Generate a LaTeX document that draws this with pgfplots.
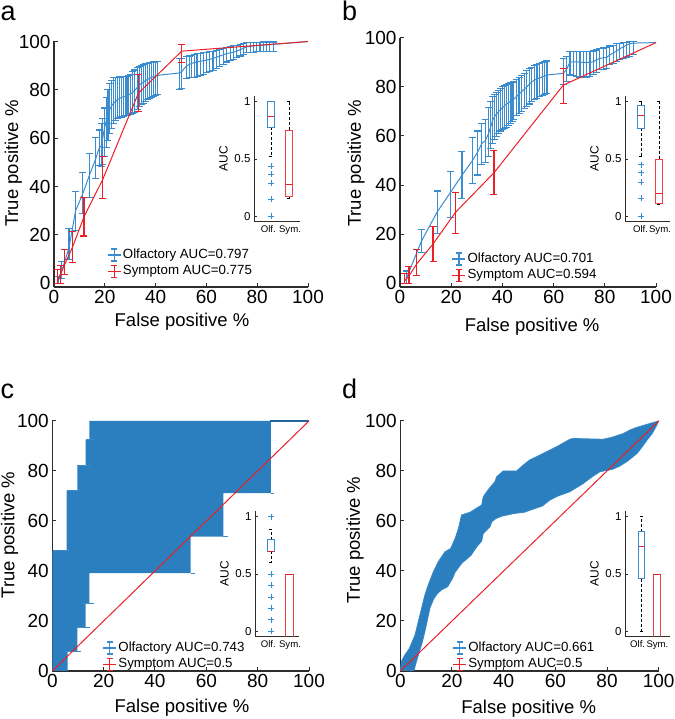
\documentclass[border=0pt]{standalone}
\usepackage{fontspec}
\setmainfont{Liberation Sans}
\usepackage{pgfplots}
\usepackage{pgfplotstable}
\pgfplotsset{compat=1.18}
\usepgfplotslibrary{statistics}

\definecolor{blu}{RGB}{58,140,206}
\definecolor{bandblu}{RGB}{44,127,190}
\definecolor{rd}{RGB}{234,32,40}
\definecolor{axgray}{RGB}{45,45,45}

% panel a, olfactory ROC: x y lower upper
\pgfplotstableread{
x y lo hi
1.7 1 0 3
3.0 5 2 9
5.9 14.7 9.7 22.5
8.5 30 22 37.9
11.3 37 28.7 45.7
13.9 44.6 35.5 53.8
16.5 51.7 43.2 60.3
17.8 56 48.6 63.4
18.7 57 48.3 66.2
19.0 59 49 68
19.75 63.5 52.5 72.5
20.5 67 56 77
21.25 69.8 59 80
22.0 72 62 82.5
22.75 73.5 64.2 84
23.5 74.5 66 85
24.25 75.2 67.2 85
25.0 76 68 85
25.75 76.4 68.4 85.3
26.5 76.8 68.8 85.5
27.25 77.1 69.1 85.5
28.0 77.4 69.3 85.6
28.75 77.7 69.5 85.7
29.5 78 69.7 86
30.25 78.4 69.9 86.5
31.0 79 70.3 87.5
31.75 79.7 70.8 88.2
32.8 81 72 89.3
33.6 82 73 89.8
34.4 82.6 73.8 90.2
35.2 83.2 74.5 90.5
36.0 83.8 75.2 90.8
36.8 84.3 76 91
37.6 84.8 76.6 91.2
38.4 85.2 77 91.4
39.2 85.5 77.4 91.5
40.0 85.8 77.8 91.6
40.8 86 78 91.7
49.5 87 80 93
50.2 87.5 80.5 93
52.3 90 84.8 93.7
53.3 90.5 85 94
54.3 91 85 94.3
55.3 91.3 85.2 94.6
56.3 91.5 85.5 95
57.5 91.8 86 95.2
58.7 92 86.5 95.4
60.0 92.3 87 95.6
61.3 92.6 87.5 95.8
62.6 93 88 96
64.0 93.5 89 96.4
65.3 94 89.8 96.7
66.6 94.5 90.5 97
68.0 95 91.5 97.5
69.4 95.3 92 98
70.7 95.6 92.6 98.2
72.0 96 93.2 98.5
73.3 96.6 94 98.8
74.6 97.2 94.8 99.2
75.9 97.8 95.3 99.5
77.2 98 95.5 99.6
78.5 98.2 95.6 99.6
79.8 98.3 95.7 99.7
81.1 98.4 95.8 99.7
82.4 98.5 95.8 99.8
83.7 98.6 95.9 99.8
85.0 98.7 96 99.8
86.3 98.8 96 99.8
}\olfA

\pgfplotstableread{
x y lo hi
1.3 1 0 5.6
2.4 3.5 0 7.4
4.3 8 3.5 14.1
7.3 15 8.6 21.4
11.8 27.5 19.6 35.5
19.2 43 35.2 52.4
33.2 78.6 71 86.2
50.3 96 91.2 98.6
}\symA

% panel b
\pgfplotstableread{
x y lo hi
2.5 2 0 5
8.3 17 12.5 22
14.5 29 20.4 37.6
19.7 37 26.9 45.4
24.2 44 34.6 53.6
28.3 50 40.7 59.4
30.1 53 44.1 62
32.0 57 48.2 64.9
33.3 58 49.1 66.8
34.6 61 51.8 71.7
35.5 64 55 74
36.25 66.5 57 76
37.0 68 58.5 77
37.75 69 59.6 77.7
38.5 70 61 78.5
39.25 70.7 62 79.2
40.0 71.5 62.6 80
40.75 72.2 63.1 80.5
41.5 73 63.6 81
42.25 73.4 64.2 81.3
43.0 74 65 81.6
43.75 74.5 65.8 81.9
44.5 75 66.8 82.2
45.5 76 68.5 83
46.5 77 69.3 83.7
47.5 78 70 84.5
48.5 79 71 85.5
49.5 80 72 86.5
50.5 81 73 87.5
51.5 82 74 88
52.5 82.7 74.7 88.5
53.5 83.2 75.3 89
54.5 83.6 76 89.5
55.5 84 76.5 90
56.5 84.4 77 90.3
57.4 84.8 77.4 90.5
63.8 85.5 81 91.5
65.0 87 82 92.5
66.4 90 84.8 94.3
67.7 90.2 84.5 94.4
69.0 90.2 84.2 94.5
70.3 90 84 94.5
71.6 90 84 94.5
72.9 90 84 94.5
74.2 90 84.3 94.5
75.5 90.2 85 94.6
76.8 91 86 95
78.1 91.6 86.9 95.7
79.4 91.8 87.2 95.8
80.7 92 87.6 96
82.0 93 89 96.6
83.3 93.8 89.6 97
84.6 94.5 90.3 97.5
85.9 95.5 91 97.8
87.2 96.3 91.5 98
88.5 97 92 98.2
89.8 97.5 92.5 98.4
91.1 97.8 93 98.5
}\olfB

\pgfplotstableread{
x y lo hi
1.8 1 0 4
3.5 3 0 7
6.6 8 3 13.6
12.9 16 8.8 23
21.6 28.8 20.4 37
36.7 45 36 53.9
63.8 80.7 73.3 87.5
}\symB

\pgfplotsset{
  /pgf/number format/assume math mode=true,
  mainax/.style={scale only axis, anchor=south west, xmin=0, xmax=100, ymax=100,
    axis x line*=bottom, axis y line*=left, tick align=inside, major tick length=4pt,
    xtick={0,20,...,100}, ytick={0,20,...,100}, clip=false,
    axis line style={axgray, line width=1.3pt}, tick style={axgray, line width=1pt},
    tick label style={font=\fontsize{19}{19}\selectfont},
    label style={font=\fontsize{18.5}{19}\selectfont},
    xlabel={False positive \%}, ylabel={True positive \%},
    legend style={anchor=north west, draw=none, fill=none,
      font=\fontsize{13.3}{14}\selectfont, legend cell align=left,
      nodes={inner sep=1.5pt, text height=10pt, text depth=3.5pt}}},
  labpos/.style n args={4}{
    xlabel style={at={(axis description cs:#1,#2)}, anchor=center},
    ylabel style={at={(axis description cs:#3,#4)}, anchor=center}},
  inax/.style n args={2}{scale only axis, anchor=south west, ymin=-0.05, ymax=1.05,
    axis x line*=bottom, axis y line*=left, tick align=inside, major tick length=2.5pt,
    ytick={0,0.5,1}, yticklabels={0,0.5,1},
    xtick=\empty, extra x ticks={#1,#2}, extra x tick labels={Olf.,Sym.},
    extra x tick style={major tick length=0pt},
    axis line style={axgray, line width=1pt}, tick style={axgray, line width=0.8pt},
    yticklabel style={font=\fontsize{11.5}{12}\selectfont},
    xticklabel style={font=\fontsize{9.6}{10}\selectfont},
    ylabel={AUC}, ylabel style={font=\fontsize{12}{12}\selectfont},
    boxplot/draw direction=y,
    boxplot/box extend=0.35, boxplot/whisker extend=0.17,
    boxplot/every median/.style={rd, line width=0.8pt},
    boxplot/every whisker/.style={black, line width=0.8pt, dash pattern=on 3pt off 2pt}},
  bleg/.style={legend image code/.code={
    \draw[draw={rgb,255:red,58;green,140;blue,206}, line width=1.2pt]
      (0pt,0pt) -- (13pt,0pt) (6.5pt,-6pt) -- (6.5pt,6pt)
      (3.5pt,6pt) -- (9.5pt,6pt) (3.5pt,-6pt) -- (9.5pt,-6pt);}},
  rleg/.style={legend image code/.code={
    \draw[draw={rgb,255:red,234;green,32;blue,40}, line width=1.2pt]
      (0pt,0pt) -- (13pt,0pt) (6.5pt,-6pt) -- (6.5pt,6pt)
      (3.5pt,6pt) -- (9.5pt,6pt) (3.5pt,-6pt) -- (9.5pt,-6pt);}},
  ebar/.style={line width=1pt, error bars/.cd, y dir=both, y explicit,
    error bar style={draw=#1, line width=1.1pt},
    error mark options={draw=#1, rotate=90, mark size=3.5pt, line width=1.1pt}},
}

\begin{document}
\begin{tikzpicture}
\useasboundingbox (0pt,0pt) rectangle (674pt,719pt);

\node[anchor=base west, inner sep=0pt, font=\fontsize{27}{27}\selectfont] at (0.5pt,698.3pt) {a};
\node[anchor=base west, inner sep=0pt, font=\fontsize{27}{27}\selectfont] at (342pt,698.3pt) {b};
\node[anchor=base west, inner sep=0pt, font=\fontsize{27}{27}\selectfont] at (0.5pt,320.7pt) {c};
\node[anchor=base west, inner sep=0pt, font=\fontsize{27}{27}\selectfont] at (342pt,320.7pt) {d};

% ---------------- a
\begin{axis}[mainax, at={(54pt,432pt)}, width=254pt, height=245.5pt, ymin=-1.5,
  labpos={0.504}{-0.143}{-0.160}{0.503}, legend style={at={(0.197,0.173)}}]
\addlegendimage{bleg}\addlegendentry{Olfactory AUC=0.797}
\addlegendimage{rleg}\addlegendentry{Symptom AUC=0.775}
\addplot[blu, forget plot, ebar=blu] table[x=x, y=y,
  y error plus expr=\thisrow{hi}-\thisrow{y}, y error minus expr=\thisrow{y}-\thisrow{lo}] {\olfA};
\addplot[blu, line width=1pt, forget plot] coordinates {(86.3,98.8) (100,100)};
\addplot[rd, forget plot, ebar=rd] table[x=x, y=y,
  y error plus expr=\thisrow{hi}-\thisrow{y}, y error minus expr=\thisrow{y}-\thisrow{lo}] {\symA};
\addplot[rd, line width=1pt, forget plot] coordinates {(50.3,96) (100,100)};
\end{axis}
\begin{axis}[inax={0.85}{2.056}, at={(254pt,497pt)}, width=45.5pt, height=126pt, xmin=0.056, xmax=2.583]
\addplot[blu, line width=0.8pt, boxplot prepared={draw position=1, lower whisker=0.52,
  lower quartile=0.78, median=0.87, upper quartile=1, upper whisker=1}] coordinates {};
\addplot[only marks, mark=+, blu, mark size=3pt, mark options={line width=0.7pt}]
  coordinates {(1,0.44) (1,0.37) (1,0.29) (1,0.15) (1,0)};
\addplot[rd!85, line width=0.8pt, boxplot prepared={draw position=2, lower whisker=0.16,
  lower quartile=0.17, median=0.28, upper quartile=0.75, upper whisker=1}] coordinates {};
\end{axis}

% ---------------- b
\begin{axis}[mainax, at={(400pt,432pt)}, width=256pt, height=249.3pt, ymin=-1.5,
  labpos={0.516}{-0.160}{-0.172}{0.495}, legend style={at={(0.19,0.154)}}]
\addlegendimage{bleg}\addlegendentry{Olfactory AUC=0.701}
\addlegendimage{rleg}\addlegendentry{Symptom AUC=0.594}
\addplot[blu, forget plot, ebar=blu] table[x=x, y=y,
  y error plus expr=\thisrow{hi}-\thisrow{y}, y error minus expr=\thisrow{y}-\thisrow{lo}] {\olfB};
\addplot[blu, line width=1pt, forget plot] coordinates {(91.1,97.8) (100,98)};
\addplot[rd, forget plot, ebar=rd] table[x=x, y=y,
  y error plus expr=\thisrow{hi}-\thisrow{y}, y error minus expr=\thisrow{y}-\thisrow{lo}] {\symB};
\addplot[rd, line width=1pt, forget plot] coordinates {(63.8,80.7) (100,98)};
\end{axis}
\begin{axis}[inax={0.972}{2.055}, at={(625pt,497pt)}, width=45pt, height=126pt, xmin=0.111, xmax=2.611]
\addplot[blu, line width=0.8pt, boxplot prepared={draw position=1, lower whisker=0.52,
  lower quartile=0.77, median=0.88, upper quartile=0.97, upper whisker=1}] coordinates {};
\addplot[only marks, mark=+, blu, mark size=3pt, mark options={line width=0.7pt}]
  coordinates {(1,0.45) (1,0.38) (1,0.30) (1,0.16) (1,0)};
\addplot[rd!85, line width=0.8pt, boxplot prepared={draw position=2, lower whisker=0.10,
  lower quartile=0.11, median=0.20, upper quartile=0.50, upper whisker=1}] coordinates {};
\end{axis}

% ---------------- c
\begin{axis}[mainax, at={(52.3pt,48pt)}, width=256.7pt, height=250pt, ymin=0,
  labpos={0.505}{-0.146}{-0.166}{0.544}, legend style={at={(0.184,0.134)}}]
\addlegendimage{bleg}\addlegendentry{Olfactory AUC=0.743}
\addlegendimage{rleg}\addlegendentry{Symptom AUC=0.5}
\addplot[fill=bandblu, draw=none, forget plot] coordinates {
  (0,0) (0,48) (5.6,48) (5.6,72) (9.8,72) (9.8,82.3) (13,82.3) (13,92.4) (14.4,92.4)
  (14.4,100) (85.1,100) (85.1,71.1) (66.6,71.1) (66.6,53.7) (53.9,53.7) (53.9,39.1)
  (14.4,39.1) (14.4,27.1) (13,27.1) (13,17.3) (9.8,17.3) (9.8,7.7) (6,7.7) (6,0)};
\addplot[blu, line width=1pt, forget plot, unbounded coords=jump] coordinates {
  (0.4,48) (6.9,48) (nan,nan) (5.6,72) (11.3,72) (nan,nan) (9.8,82.3) (14.7,82.3)
  (nan,nan) (13.1,92.4) (16.3,92.4) (nan,nan) (4.9,7.7) (11.3,7.7) (nan,nan)
  (9.8,17.3) (14.7,17.3) (nan,nan) (11.4,27.1) (16.3,27.1) (nan,nan)
  (53.9,39.1) (55.6,39.1) (nan,nan) (66.6,53.7) (68.3,53.7) (nan,nan)
  (85.1,71.1) (86.5,71.1)};
\addplot[bandblu!80!black, line width=1.2pt, forget plot] coordinates {(85,100) (100,100)};
\addplot[rd, line width=1pt, forget plot] coordinates {(0,0) (100,100)};
\end{axis}
\begin{axis}[inax={0.854}{2.027}, at={(255pt,82pt)}, width=44pt, height=126pt, xmin=0.135, xmax=2.513]
\addplot[blu, line width=0.8pt, boxplot prepared={draw position=1, lower whisker=0.60,
  lower quartile=0.70, median=0.70, upper quartile=0.80, upper whisker=0.89}] coordinates {};
\addplot[only marks, mark=+, blu, mark size=3pt, mark options={line width=0.7pt}]
  coordinates {(1,1) (1,0.5) (1,0.4) (1,0.3) (1,0.2) (1,0.1) (1,0)};
\addplot[rd!85, line width=0.8pt, boxplot prepared={draw position=2, box extend=0.4,
  lower whisker=0.5, lower quartile=-0.05, median=0.5, upper quartile=0.5, upper whisker=0.5,
  every whisker/.style={draw=none}}] coordinates {};
\end{axis}

% ---------------- d
\begin{axis}[mainax, at={(400.3pt,48pt)}, width=258.4pt, height=250pt, ymin=0,
  labpos={0.497}{-0.152}{-0.175}{0.524}, legend style={at={(0.19,0.134)}}]
\addlegendimage{bleg}\addlegendentry{Olfactory AUC=0.661}
\addlegendimage{rleg}\addlegendentry{Symptom AUC=0.5}
\addplot[fill=bandblu, draw=blu!70!bandblu, line width=0.8pt, forget plot] coordinates {
  (0,0) (0.5,4) (1.8,6.5) (3.5,9) (5.7,14.4) (7.6,22.4) (9.5,30.4) (10.8,34.4)
  (12.8,39.7) (14.7,43.7) (17.3,47.7) (19.5,49) (21.2,53) (22.5,57) (23.7,62.4)
  (27,63.5) (31.5,66.4) (32.1,69.7) (34,72.5) (36.6,75.7) (37.3,77.7) (39.8,80)
  (45,80) (47.6,82.4) (50.2,84.5) (52.7,85.7) (57.9,88.4) (60.5,89.7) (65.6,92.7)
  (67,93) (78.5,92.7) (82,93.5) (86.3,95) (88.9,96.4) (91.4,97.4) (96.6,99) (100,100)
  (99.3,98.4) (97.5,95) (95.5,92.4) (93.5,89.5) (91.6,87) (88,84) (85,82) (82.4,80.8)
  (81.2,80.5) (77.2,79.7) (74,77.5) (70.8,75) (65.6,71.7) (61,70) (57.9,68.4) (55,66)
  (52.1,65) (48,63.5) (44,63) (39.5,62) (37,61) (35.4,59.7) (34.7,57.7) (32.1,55)
  (31.5,52) (29.6,49.7) (27.3,46.2) (24,43.3) (23,42) (21.2,39.5) (20.2,37) (18.3,33.7)
  (16,32.5) (14.4,31) (13,29) (11.5,25.3) (10.5,20.5) (9.6,16.2) (8.5,11.5) (7.3,7.5)
  (6.3,4) (5.3,0.3) (3.9,0)};
\addplot[rd, line width=1pt, forget plot] coordinates {(0,0) (100,100)};
\end{axis}
\begin{axis}[inax={0.754}{2.03}, at={(625pt,82pt)}, width=45pt, height=126pt, xmin=-0.065, xmax=2.84]
\addplot[blu, line width=0.8pt, boxplot prepared={draw position=1, box extend=0.37,
  lower whisker=0, lower quartile=0.46, median=0.74, upper quartile=0.87, upper whisker=1}]
  coordinates {};
\addplot[rd!85, line width=0.8pt, boxplot prepared={draw position=2, box extend=0.5,
  lower whisker=0.5, lower quartile=-0.05, median=0.5, upper quartile=0.5, upper whisker=0.5,
  every whisker/.style={draw=none}}] coordinates {};
\end{axis}
\end{tikzpicture}
\end{document}
